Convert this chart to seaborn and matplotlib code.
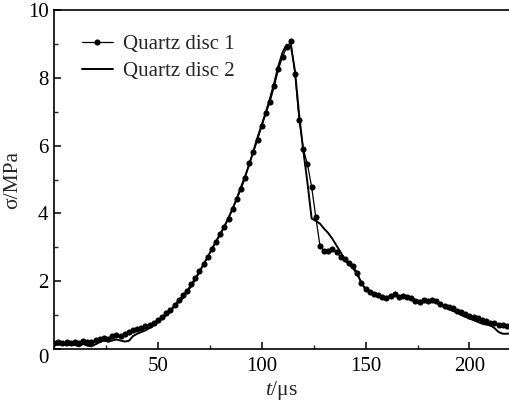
import matplotlib
matplotlib.use('Agg')
import matplotlib.pyplot as plt
import numpy as np
import pandas as pd
import seaborn as sns
from matplotlib.ticker import MultipleLocator

# time axis (us), one reading every 2 us
t_us = list(range(0, 222, 2))

# Quartz disc 1 (line with dots), MPa
disc1 = [0.18, 0.20, 0.17, 0.20, 0.18, 0.21, 0.17, 0.24, 0.22, 0.20,
         0.27, 0.30, 0.33, 0.30, 0.38, 0.42, 0.38, 0.45, 0.50, 0.55,
         0.58, 0.62, 0.68, 0.72, 0.78, 0.86, 0.94, 1.05, 1.15, 1.30,
         1.45, 1.58, 1.72, 1.92, 2.10, 2.30, 2.50, 2.72, 2.95, 3.15,
         3.38, 3.60, 3.85, 4.12, 4.42, 4.72, 5.05, 5.50, 5.80, 6.18,
         6.58, 6.95, 7.30, 7.75, 8.25, 8.62, 8.90, 9.08, 8.10, 6.75,
         5.90, 5.45, 4.78, 3.90, 3.05, 2.88, 2.90, 2.95, 2.85, 2.72,
         2.65, 2.55, 2.45, 2.25, 1.95, 1.78, 1.68, 1.63, 1.58, 1.52,
         1.50, 1.55, 1.62, 1.52, 1.55, 1.52, 1.50, 1.42, 1.38, 1.45,
         1.42, 1.45, 1.42, 1.32, 1.28, 1.25, 1.20, 1.12, 1.08, 1.02,
         0.98, 0.95, 0.90, 0.85, 0.82, 0.78, 0.76, 0.72, 0.70, 0.68,
         0.66]

# Quartz disc 2 (plain line), MPa
disc2 = [0.15, 0.12, 0.15, 0.10, 0.13, 0.12, 0.08, 0.15, 0.10, 0.08,
         0.14, 0.20, 0.25, 0.22, 0.25, 0.28, 0.25, 0.22, 0.24, 0.38,
         0.45, 0.50, 0.55, 0.62, 0.70, 0.80, 0.90, 1.00, 1.10, 1.28,
         1.38, 1.50, 1.68, 1.85, 2.05, 2.28, 2.50, 2.72, 2.95, 3.18,
         3.40, 3.62, 3.88, 4.15, 4.45, 4.78, 5.10, 5.45, 5.85, 6.25,
         6.62, 7.00, 7.40, 7.85, 8.35, 8.75, 8.98, 8.95, 8.20, 6.90,
         5.85, 4.90, 3.85, 3.78, 3.70, 3.55, 3.42, 3.25, 3.05, 2.85,
         2.62, 2.50, 2.38, 2.20, 1.95, 1.75, 1.68, 1.62, 1.60, 1.55,
         1.52, 1.58, 1.60, 1.55, 1.55, 1.50, 1.48, 1.45, 1.42, 1.42,
         1.40, 1.42, 1.38, 1.30, 1.22, 1.18, 1.12, 1.08, 1.00, 0.95,
         0.90, 0.85, 0.80, 0.75, 0.72, 0.70, 0.62, 0.50, 0.45, 0.45,
         0.46]

labels = ['Quartz disc 1', 'Quartz disc 2']

sns.set_theme(style='ticks')
plt.rcParams['font.family'] = ['Liberation Serif', 'DejaVu Serif']
plt.rcParams['mathtext.fontset'] = 'custom'
plt.rcParams['mathtext.rm'] = 'Liberation Serif'
plt.rcParams['mathtext.it'] = 'Liberation Serif:italic'

df1 = pd.DataFrame({'t': t_us, 'sigma': disc1})
df2 = pd.DataFrame({'t': t_us, 'sigma': disc2})

fig = plt.figure(figsize=(5.10, 4.03), dpi=100)
ax = fig.add_axes([0.106, 0.134, 0.894, 0.841])

sns.lineplot(data=df1, x='t', y='sigma', ax=ax, color='black', linewidth=0.9,
             marker='o', markersize=4.4, markeredgewidth=0, label=labels[0])
sns.lineplot(data=df2, x='t', y='sigma', ax=ax, color='black', linewidth=1.4,
             label=labels[1])

ax.set_xlim(0, 219.5)
ax.set_ylim(0, 10)
ax.xaxis.set_major_locator(MultipleLocator(50))
ax.xaxis.set_minor_locator(MultipleLocator(25))
ax.yaxis.set_major_locator(MultipleLocator(2))
ax.yaxis.set_minor_locator(MultipleLocator(1))
ax.set_xticks([50, 100, 150, 200])

ax.tick_params(which='major', direction='in', length=5, width=1.1,
               labelsize=15, colors='black', pad=6)
ax.tick_params(which='minor', direction='in', length=3, width=1.0)
ax.tick_params(axis='y', which='major', pad=4)

for lab in ax.get_yticklabels():
    if lab.get_text() == '0':
        lab.set_verticalalignment('top')

ax.spines['right'].set_visible(False)
for side in ['left', 'bottom', 'top']:
    ax.spines[side].set_linewidth(1.2)
    ax.spines[side].set_color('black')

ax.set_xlabel(r'$t$/μs', fontsize=15.5, labelpad=2)
ax.set_ylabel('σ/MPa', fontsize=15.5, labelpad=4)

ax.legend(loc='upper left', frameon=False, fontsize=15, handlelength=1.5,
          handletextpad=0.5, labelspacing=0.38, borderaxespad=0.6,
          bbox_to_anchor=(0.015, 0.99))

fig.savefig('out.png', dpi=100)
